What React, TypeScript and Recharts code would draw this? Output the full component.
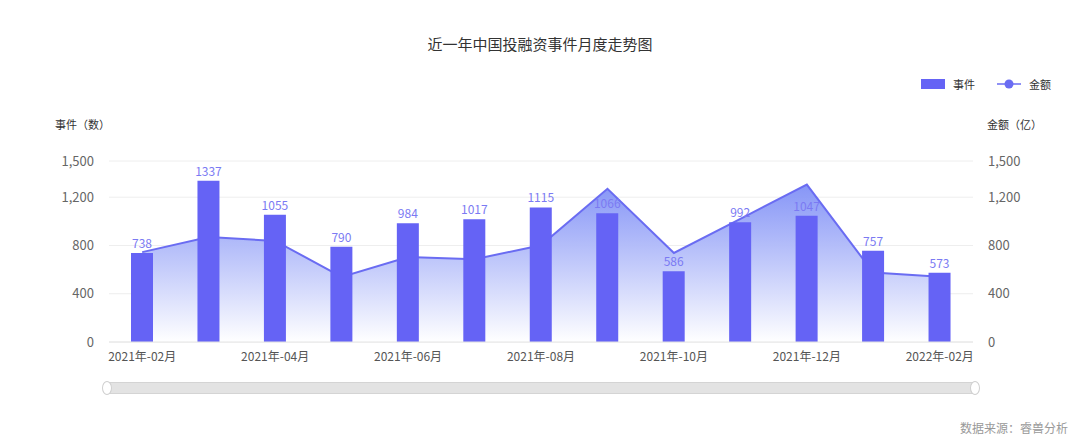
import React from 'react';
import {
  ComposedChart,
  Bar,
  Area,
  XAxis,
  YAxis,
  CartesianGrid,
  LabelList,
} from 'recharts';

const months = [
  '2021年-02月', '2021年-03月', '2021年-04月', '2021年-05月', '2021年-06月',
  '2021年-07月', '2021年-08月', '2021年-09月', '2021年-10月', '2021年-11月',
  '2021年-12月', '2022年-01月', '2022年-02月',
];
const eventCounts = [738, 1337, 1055, 790, 984, 1017, 1115, 1066, 586, 992, 1047, 757, 573];
const amounts = [745, 870, 838, 540, 705, 686, 802, 1270, 738, 1020, 1305, 575, 540];
const yTicks = [0, 400, 800, 1200, 1500];

const data = months.map((m, i) => ({ month: m, events: eventCounts[i], amount: amounts[i] }));

const FONT = "'Noto Sans CJK SC', 'Noto Sans', sans-serif";
const BAR = '#6563f5';
const LINE = '#6a6cf2';

export default function App() {
  return (
    <div
      style={{
        position: 'absolute',
        left: 0,
        top: 0,
        width: 1080,
        height: 440,
        background: '#fff',
        fontFamily: FONT,
        overflow: 'hidden',
      }}
    >
      <div
        style={{
          position: 'absolute',
          top: 33,
          left: 0,
          width: 1080,
          textAlign: 'center',
          fontSize: 15,
          color: '#333',
        }}
      >
        近一年中国投融资事件月度走势图
      </div>

      {/* legend */}
      <div style={{ position: 'absolute', left: 921, top: 79, width: 24, height: 10, background: BAR }} />
      <div style={{ position: 'absolute', left: 953, top: 76, fontSize: 11, color: '#333' }}>事件</div>
      <svg style={{ position: 'absolute', left: 996, top: 76 }} width={26} height={16}>
        <line x1={1} y1={8} x2={25} y2={8} stroke={LINE} strokeWidth={1.5} />
        <circle cx={13} cy={8} r={4.5} fill={LINE} />
      </svg>
      <div style={{ position: 'absolute', left: 1029, top: 76, fontSize: 11, color: '#333' }}>金额</div>

      {/* axis names */}
      <div style={{ position: 'absolute', left: 55, top: 116, fontSize: 11, color: '#333' }}>事件（数）</div>
      <div style={{ position: 'absolute', left: 987, top: 116, fontSize: 11, color: '#333' }}>金额（亿）</div>

      <div style={{ position: 'absolute', left: 0, top: 0 }}>
        <ComposedChart
          width={1080}
          height={440}
          data={data}
          margin={{ top: 161, right: 0, bottom: 68, left: 0 }}
          style={{ fontFamily: FONT }}
        >
          <defs>
            <linearGradient id="areaFill" x1="0" y1="0" x2="0" y2="1">
              <stop offset="0%" stopColor="#8090f6" stopOpacity={0.95} />
              <stop offset="100%" stopColor="#ffffff" stopOpacity={1} />
            </linearGradient>
          </defs>
          <CartesianGrid vertical={false} stroke="#eeeeee" yAxisId="left" />
          <XAxis
            dataKey="month"
            interval={1}
            tickLine={false}
            axisLine={{ stroke: '#e4e4e4' }}
            tick={{ fontSize: 12, fill: '#555' }}
            tickMargin={4}
            height={30}
          />
          <YAxis
            yAxisId="left"
            orientation="left"
            domain={[0, 1500]}
            ticks={yTicks}
            width={109}
            axisLine={false}
            tickLine={false}
            tickSize={6}
            tickMargin={9}
            tick={{ fontSize: 13, fill: '#666' }}
            tickFormatter={(v: number) => v.toLocaleString('en-US')}
          />
          <YAxis
            yAxisId="right"
            orientation="right"
            domain={[0, 1500]}
            ticks={yTicks}
            width={107}
            axisLine={false}
            tickLine={false}
            tickSize={6}
            tickMargin={9}
            tick={{ fontSize: 13, fill: '#666' }}
            tickFormatter={(v: number) => v.toLocaleString('en-US')}
          />
          <Area
            yAxisId="right"
            type="linear"
            dataKey="amount"
            stroke={LINE}
            strokeWidth={2}
            fill="url(#areaFill)"
            fillOpacity={1}
            dot={false}
            activeDot={false}
            isAnimationActive={false}
          />
          <Bar yAxisId="left" dataKey="events" barSize={22} fill={BAR} isAnimationActive={false}>
            <LabelList dataKey="events" position="top" offset={5} fill="#7b7af3" fontSize={12} />
          </Bar>
        </ComposedChart>
      </div>

      {/* slider */}
      <div
        style={{
          position: 'absolute',
          left: 104,
          top: 382,
          width: 874,
          height: 12,
          background: '#e3e3e3',
          border: '1px solid #d4d4d4',
          borderRadius: 7,
          boxSizing: 'border-box',
        }}
      />
      <div
        style={{
          position: 'absolute',
          left: 102,
          top: 381,
          width: 10,
          height: 14,
          background: '#fff',
          border: '1px solid #cfcfcf',
          borderRadius: '50%',
          boxSizing: 'border-box',
        }}
      />
      <div
        style={{
          position: 'absolute',
          left: 970,
          top: 381,
          width: 10,
          height: 14,
          background: '#fff',
          border: '1px solid #cfcfcf',
          borderRadius: '50%',
          boxSizing: 'border-box',
        }}
      />

      <div style={{ position: 'absolute', left: 960, top: 419, fontSize: 12, color: '#999' }}>数据来源：睿兽分析</div>
    </div>
  );
}
